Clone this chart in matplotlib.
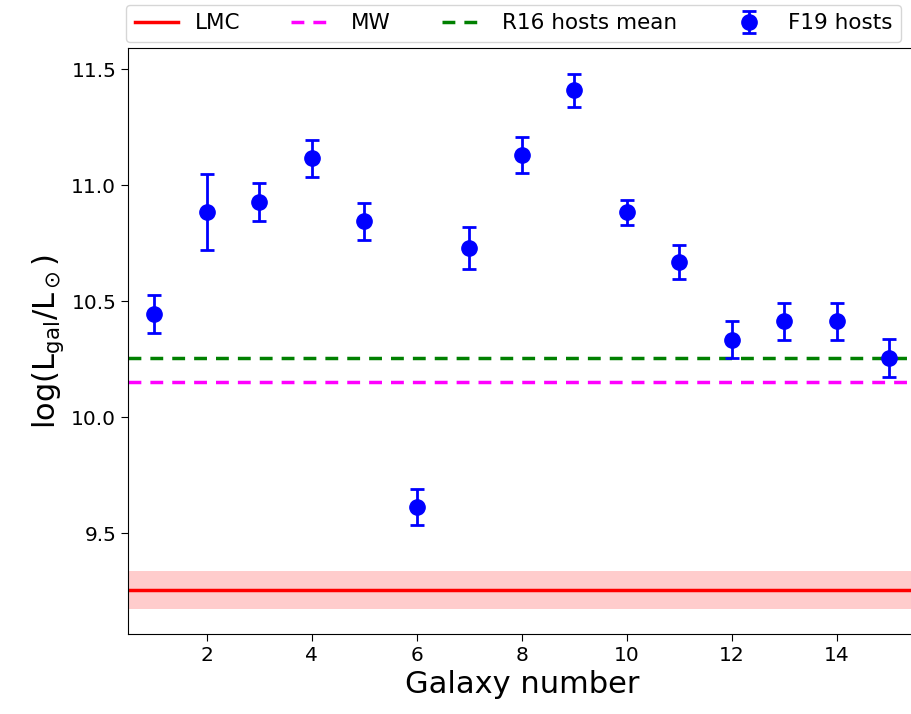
import matplotlib.pyplot as plt
import numpy as np

# F19 host galaxies
galaxy = np.arange(1, 16)
log_lum = [10.445, 10.886, 10.928, 11.117, 10.845, 9.613, 10.730, 11.130,
           11.409, 10.883, 10.671, 10.334, 10.413, 10.413, 10.255]
log_lum_err = [0.080, 0.165, 0.080, 0.080, 0.080, 0.078, 0.090, 0.078,
               0.070, 0.052, 0.073, 0.080, 0.080, 0.080, 0.083]

# reference values
lmc = 9.254
lmc_err = 0.082
mw = 10.15
r16_mean = 10.254

fig = plt.figure(figsize=(9.12, 7.14), dpi=100)
ax = fig.add_axes([0.1404, 0.112, 0.8635, 0.8207])

ax.axhline(lmc, color='red', lw=2.5, label='LMC')
ax.axhspan(lmc - lmc_err, lmc + lmc_err, color='red', alpha=0.2, lw=0)
ax.axhline(mw, color='magenta', ls='--', lw=2.5, dashes=(3.7, 2.6), label='MW')
ax.axhline(r16_mean, color='green', ls='--', lw=2.5, dashes=(3.7, 2.6),
           label='R16 hosts mean')
ax.errorbar(galaxy, log_lum, yerr=log_lum_err, fmt='o', color='blue', ms=11,
            elinewidth=2, capsize=5, capthick=2, label='F19 hosts')

ax.set_xlim(0.5, 15.5)
ax.set_ylim(9.065, 11.592)
ax.set_xticks([2, 4, 6, 8, 10, 12, 14])
ax.set_yticks([9.5, 10.0, 10.5, 11.0, 11.5])
ax.tick_params(labelsize=14.5, length=5)
ax.set_xlabel('Galaxy number', fontsize=22)
ax.set_ylabel(r'log(L$_{\rm gal}$/L$_\odot$)', fontsize=22)

ax.legend(loc='lower left', bbox_to_anchor=(-0.0025, 1.0102), ncol=4,
          fontsize=15.5, borderaxespad=0, columnspacing=2.35)

plt.savefig('out.png', dpi=100)
